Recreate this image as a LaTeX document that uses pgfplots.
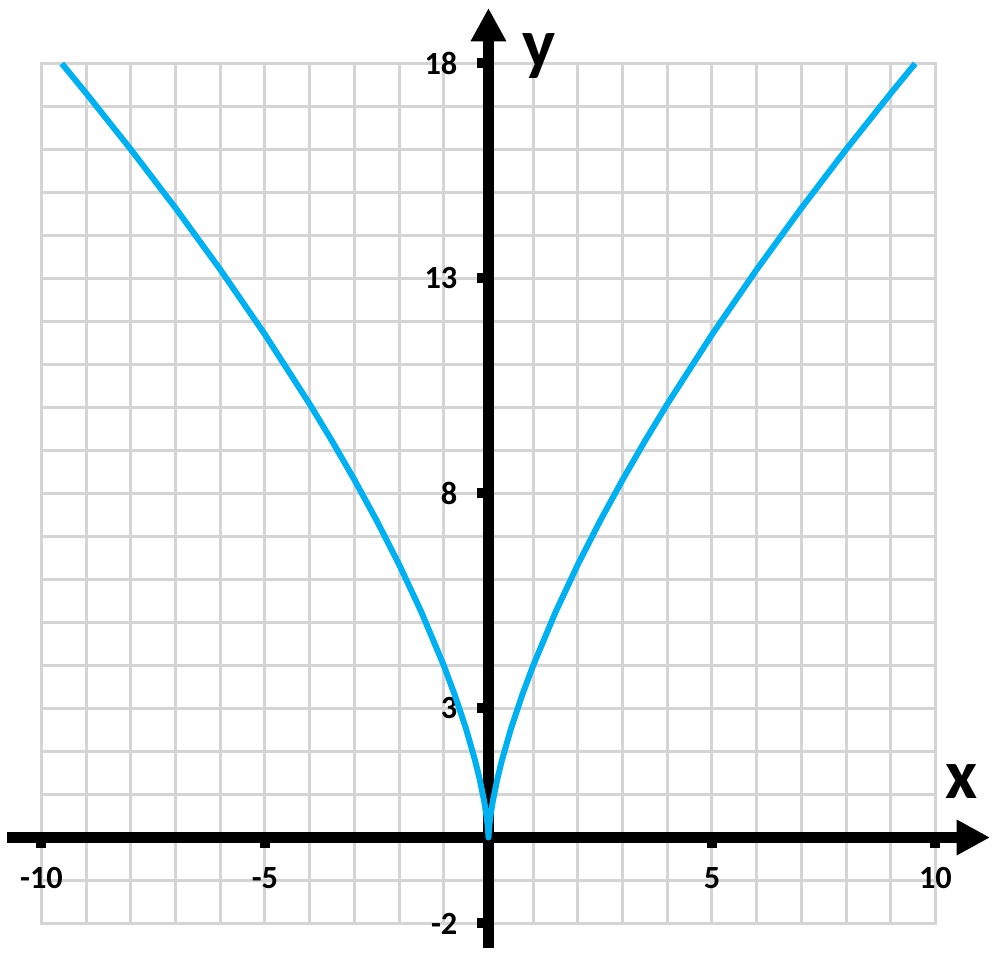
\documentclass[border=0pt]{standalone}
\usepackage{pgfplots}
\pgfplotsset{compat=1.18}
\usepackage{fontspec}
\setmainfont{Carlito}
\usetikzlibrary{arrows.meta}
\definecolor{curveblue}{RGB}{0,176,240}
\definecolor{gridgray}{RGB}{212,212,212}

\begin{document}
\begin{tikzpicture}
% grid of unit squares, only over [-10,10] x [-2,18]
\begin{axis}[
    anchor=origin, at={(0,0)},
    x=13.41pt, y=12.9pt,
    xmin=-10, xmax=10,
    ymin=-2, ymax=18,
    xtick={-10,...,10},
    ytick={-2,...,18},
    xticklabels={}, yticklabels={},
    grid=major,
    grid style={gridgray, line width=0.9pt},
    axis line style={gridgray, line width=0.9pt},
    tick style={draw=none},
]
\end{axis}

\begin{axis}[
    anchor=origin, at={(0,0)},
    x=13.41pt, y=12.9pt,
    xmin=-10.77, xmax=11.22,
    ymin=-2.57, ymax=19.29,
    axis lines=middle,
    axis line style={line width=3.2pt, black, -{Triangle[length=10pt 0, width=10pt 0]}},
    xtick={-10,-5,5,10},
    xticklabels={-10,-5,5,10},
    ytick={-2,3,8,13,18},
    yticklabels={-2,3,8,13,18},
    tick align=outside,
    major tick length=3.3pt,
    tick style={line width=3pt, black},
    ticklabel style={font=\fontsize{9.7}{10}\selectfont\bfseries},
    xticklabel style={anchor=center, yshift=-9pt},
    yticklabel style={anchor=east, xshift=-2.5pt},
    clip=false,
]
\addplot[curveblue, line width=1.8pt, line join=round] coordinates {
  (-9.546,18.0) (-9,17.307) (-8,16.0) (-7,14.637) (-6,13.208) (-5,11.696)
  (-4,10.079) (-3.5,9.221) (-3,8.320) (-2.5,7.368) (-2,6.350) (-1.5,5.241)
  (-1,4.0) (-0.75,3.302) (-0.5,2.520) (-0.3,1.792) (-0.2,1.368) (-0.1,0.862)
  (-0.05,0.543) (-0.02,0.295) (-0.01,0.186) (0,0)
  (0.01,0.186) (0.02,0.295) (0.05,0.543) (0.1,0.862) (0.2,1.368) (0.3,1.792)
  (0.5,2.520) (0.75,3.302) (1,4.0) (1.5,5.241) (2,6.350) (2.5,7.368)
  (3,8.320) (3.5,9.221) (4,10.079) (5,11.696) (6,13.208) (7,14.637)
  (8,16.0) (9,17.307) (9.546,18.0)
};

\node[font=\fontsize{21}{21}\selectfont\bfseries] at (axis cs:10.59,1.30) {x};
\node[font=\fontsize{21}{21}\selectfont\bfseries] at (axis cs:1.13,18.18) {y};

\coordinate (bbsw) at (axis cs:-10.928,-2.942);
\coordinate (bbne) at (axis cs:11.443,19.477);
\end{axis}
\pgfresetboundingbox
\path[use as bounding box] (bbsw) rectangle (bbne);
\end{tikzpicture}
\end{document}
